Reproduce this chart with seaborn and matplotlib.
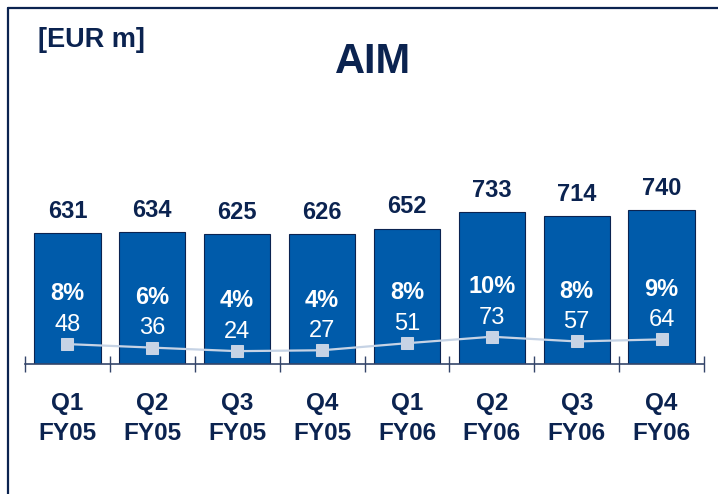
import numpy as np
import pandas as pd
import matplotlib.pyplot as plt
import seaborn as sns
from matplotlib.lines import Line2D

categories = ["Q1\nFY05", "Q2\nFY05", "Q3\nFY05", "Q4\nFY05",
              "Q1\nFY06", "Q2\nFY06", "Q3\nFY06", "Q4\nFY06"]
revenue = [631, 634, 625, 626, 652, 733, 714, 740]
ebit = [48, 36, 24, 27, 51, 73, 57, 64]
margin = ["8%", "6%", "4%", "4%", "8%", "10%", "8%", "9%"]

navy = "#0B2350"
bar_blue = "#005BAA"
line_col = "#C6D3E5"

sns.set_theme(style="white")
plt.rcParams["font.family"] = ["Liberation Sans", "DejaVu Sans"]

df = pd.DataFrame({"quarter": categories, "revenue": revenue, "ebit": ebit})

fig = plt.figure(figsize=(7.18, 4.94), dpi=100)
ax = fig.add_axes([25 / 718, 130 / 494, 679 / 718, 264 / 494])

sns.barplot(data=df, x="quarter", y="revenue", color=bar_blue, saturation=1,
            width=0.78, edgecolor=navy, linewidth=0.8, ax=ax)
ax.set_ylim(0, 1272)
ax.set_xlim(-0.5, len(categories) - 0.5)

for i, v in enumerate(revenue):
    ax.annotate(str(v), (i, v), xytext=(0, 11), textcoords="offset points",
                ha="center", va="baseline", fontsize=17, fontweight="bold",
                color=navy)

ax2 = ax.twinx()
pos = np.arange(len(categories))
sns.lineplot(x=pos, y=ebit, ax=ax2, color=line_col, linewidth=1.6,
             marker="s", markersize=9, markeredgecolor=line_col,
             markerfacecolor=line_col, zorder=3)
ax2.set_ylim(-19.7, 878)
ax2.set_xlim(-0.5, len(categories) - 0.5)
ax2.axis("off")

for i, v in enumerate(ebit):
    ax2.annotate(str(v), (i, v), xytext=(0, 9.5), textcoords="offset points",
                 ha="center", va="baseline", fontsize=17, color="white")
    ax2.annotate(margin[i], (i, v), xytext=(0, 31.5), textcoords="offset points",
                 ha="center", va="baseline", fontsize=17, fontweight="bold",
                 color="white")

for s in ["top", "left", "right"]:
    ax.spines[s].set_visible(False)
ax.spines["bottom"].set_color("#34456A")
ax.spines["bottom"].set_linewidth(1.2)
ax.set_yticks([])
ax.set_xlabel("")
ax.set_ylabel("")
ax.set_xticks(pos)
ax.set_xticklabels(categories, fontsize=17.5, fontweight="bold", color=navy,
                   linespacing=1.4)
ax.tick_params(axis="x", which="major", bottom=True, length=0, pad=20)
ax.set_xticks(np.arange(len(categories) + 1) - 0.5, minor=True)
ax.tick_params(axis="x", which="minor", bottom=True, direction="inout",
               length=11, width=1, color="#34456A")

fig.text(38 / 718, 1 - 40 / 494, "[EUR m]", fontsize=19.5, fontweight="bold",
         color=navy, ha="left", va="center")
fig.text(373 / 718, 1 - 62 / 494, "AIM", fontsize=30, fontweight="bold",
         color=navy, ha="center", va="center")

# slide frame
fig.add_artist(Line2D([8 / 718, 1], [1 - 8 / 494, 1 - 8 / 494],
                      transform=fig.transFigure, color=navy, linewidth=1.6))
fig.add_artist(Line2D([8 / 718, 8 / 718], [0, 1 - 8 / 494],
                      transform=fig.transFigure, color=navy, linewidth=1.6))

fig.savefig("out.png", dpi=100)
plt.close(fig)
